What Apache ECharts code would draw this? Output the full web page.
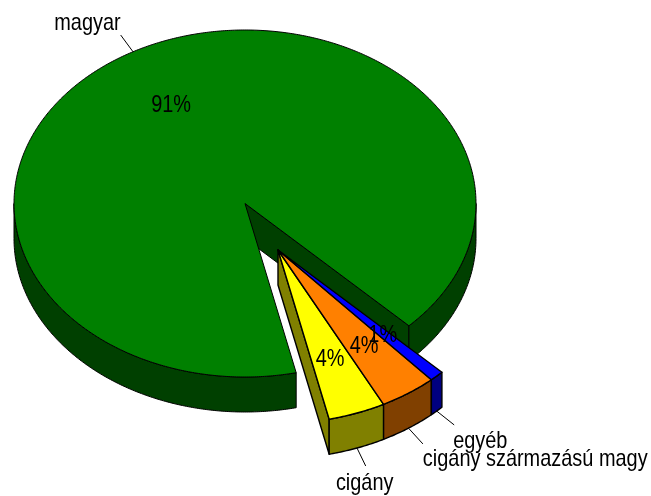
<!DOCTYPE html>
<html>
<head>
<meta charset="utf-8">
<style>html,body{margin:0;padding:0;background:#fff}#c{width:651px;height:496px}</style>
<script src="https://cdn.jsdelivr.net/npm/echarts@6/dist/echarts.min.js"></script>
</head>
<body>
<div id="c"></div>
<script>
var categories = ['magyar', 'cigány', 'cigány származású magy', 'egyéb'];
var values = [91, 4, 4, 1];
var percentLabels = ['91%', '4%', '4%', '1%'];
var exploded = [false, true, true, true];

var topColors = ['#008000', '#ffff00', '#ff8000', '#0000ff'];
var sideColors = ['#004000', '#808000', '#804000', '#000080'];

var CX = 245, CY = 203.5, RX = 231, RY = 173.5, DEPTH = 35;
var OFFSET_X = 33, OFFSET_Y = 46.5, START = 404.8;
var PCT_R = 0.66, LEADER_R = 1.11;
var FONT_SIZE = 24, TEXT_SCALE = 0.83;
// [dx, dy, align, verticalAlign] from the leader's end to the name label
var nameAnchors = [
  [0, 0, 'right', 'bottom'],
  [-1, 5, 'center', 'top'],
  [0, 3, 'left', 'top'],
  [-1, 4, 'left', 'top']
];

var total = values.reduce(function (a, b) { return a + b; }, 0);
function rad(d) { return d * Math.PI / 180; }
function pt(cx, cy, a, r, dy) {
  return [cx + RX * r * Math.cos(rad(a)), cy + RY * r * Math.sin(rad(a)) + (dy || 0)];
}
// arc from a1 to a2, sampled per half degree
function arc(cx, cy, a1, a2, dy) {
  var out = [], n = Math.max(2, Math.ceil(Math.abs(a2 - a1) * 2));
  for (var i = 0; i <= n; i++) out.push(pt(cx, cy, a1 + (a2 - a1) * i / n, 1, dy));
  return out;
}
function poly(points, fill, width) {
  return { type: 'polygon', shape: { points: points },
    style: { fill: fill, stroke: '#000', lineWidth: width, lineJoin: 'round' } };
}
function label(x, y, text, align, vAlign) {
  return { type: 'text', x: x, y: y, scaleX: TEXT_SCALE, z2: 100, silent: true,
    style: { x: 0, y: 0, text: text, fill: '#000', textAlign: align, textVerticalAlign: vAlign,
      font: FONT_SIZE + 'px "Liberation Sans", Arial, sans-serif' } };
}
// Returns visible rim spans (lower half of ellipse) within the slice [lo, hi]
function visibleSpans(lo, hi) {
  var spans = [];
  for (var k = -1; k <= 2; k++) {
    var s = Math.max(lo, k * 360), e = Math.min(hi, k * 360 + 180);
    if (e > s) spans.push([s, e]);
  }
  return spans;
}

function renderItem(params, api) {
  var i = params.dataIndex, v = api.value(0);
  var before = 0;
  for (var j = 0; j < i; j++) before += values[j];
  var hi = START - before / total * 360;
  var lo = hi - v / total * 360;
  var mid = (lo + hi) / 2;
  var cx = CX + (exploded[i] ? OFFSET_X : 0), cy = CY + (exploded[i] ? OFFSET_Y : 0);
  var w = exploded[i] ? 1.4 : 1;
  var kids = [];

  // inner wall facing the viewer
  if (!exploded[i] || i === 1) {
    var e = pt(cx, cy, hi, 1);
    kids.push(poly([[cx, cy], e, [e[0], e[1] + DEPTH], [cx, cy + DEPTH]], sideColors[i], w));
  }
  // outer rim
  visibleSpans(lo, hi).forEach(function (sp) {
    var top = arc(cx, cy, sp[0], sp[1], 0);
    var bottom = arc(cx, cy, sp[1], sp[0], DEPTH);
    kids.push(poly(top.concat(bottom), sideColors[i], w));
  });
  // top face
  kids.push(poly([[cx, cy]].concat(arc(cx, cy, lo, hi, 0)), topColors[i], w));

  // percent label
  var p = pt(cx, cy, mid, PCT_R);
  kids.push(label(p[0], p[1] + 2, percentLabels[i], 'center', 'middle'));

  // leader and name
  var m = (mid % 360 + 360) % 360;
  var d = m < 180 ? DEPTH : 0;
  var s0 = pt(cx, cy, mid, 1, d), s1 = pt(cx, cy, mid, LEADER_R, d);
  kids.push({ type: 'line', z2: 90, silent: true,
    shape: { x1: s0[0], y1: s0[1], x2: s1[0], y2: s1[1] },
    style: { stroke: '#000', lineWidth: 1 } });
  var an = nameAnchors[i];
  kids.push(label(s1[0] + an[0], s1[1] + an[1], categories[i], an[2], an[3]));

  return { type: 'group', children: kids };
}

var chart = echarts.init(document.getElementById('c'), null, { renderer: 'canvas' });
chart.setOption({
  animation: false,
  backgroundColor: '#ffffff',
  series: [{
    type: 'custom',
    coordinateSystem: 'none',
    renderItem: renderItem,
    silent: true,
    data: values.map(function (v, i) { return { name: categories[i], value: [v] }; })
  }]
});
</script>
</body>
</html>
